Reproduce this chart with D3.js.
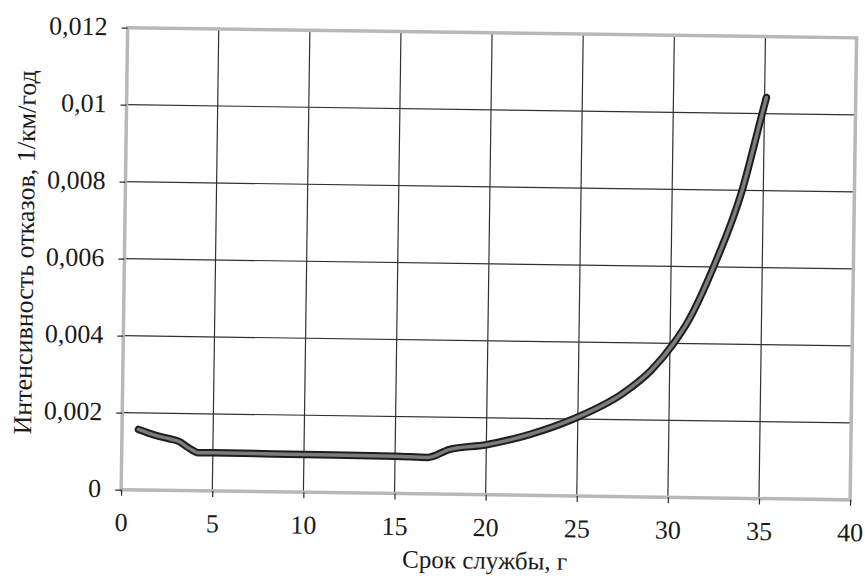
<!DOCTYPE html>
<html>
<head>
<meta charset="utf-8">
<script src="https://cdn.jsdelivr.net/npm/d3@7"></script>
<style>
  body { margin: 0; background: #fff; }
  svg { display: block; }
  text { font-family: "Liberation Serif", "Times New Roman", serif; fill: #1a1a1a; }
  .grid line { stroke: #303030; stroke-width: 1.2; }
  .axis path { display: none; }
  .axis line { stroke: #2a2a2a; stroke-width: 1.2; }
  .axis text { font-size: 26px; }
  .frame { fill: none; stroke: #b8b8b8; stroke-width: 3.5; }
  .curve-outline { fill: none; stroke: #1e1e1e; stroke-width: 7.5; stroke-linecap: round; stroke-linejoin: round; }
  .curve-fill { fill: none; stroke: #7c7c7c; stroke-width: 3.5; stroke-linecap: round; stroke-linejoin: round; }
</style>
</head>
<body>
<div id="chart"></div>
<script>
// service life, years
var years = [0.9, 1.8, 2.6, 3.1, 3.7, 4.2, 5, 10, 15, 16.8, 17.95, 20, 22.35, 24.75, 27.5, 29, 30.2, 31, 32.33, 33.84, 34.88, 35.1];
// failure rate, 1/km/year
var failureRate = [0.00157, 0.00143, 0.00134, 0.00128, 0.0011, 0.00099, 0.00099, 0.00098, 0.00097, 0.00095, 0.00116, 0.0013, 0.00158, 0.002, 0.0027, 0.0033, 0.004, 0.0046, 0.006, 0.008, 0.01, 0.01042];

var xTicks = [0, 5, 10, 15, 20, 25, 30, 35, 40];
var yTicks = [0, 0.002, 0.004, 0.006, 0.008, 0.01, 0.012];

var xTitle = "Срок службы, г";
var yTitle = "Интенсивность отказов, 1/км/год";

var width = 865,
  height = 580;
var margins = { top: 32, right: 12, bottom: 86, left: 124 };

var svg = d3
  .select("#chart")
  .append("svg")
  .attr("width", width)
  .attr("height", height);

// the scan is slightly tilted
var root = svg.append("g").attr("transform", "rotate(0.8, 432.5, 290)");

var x = d3
  .scaleLinear()
  .domain([0, 40])
  .range([margins.left, width - margins.right]);

var y = d3
  .scaleLinear()
  .domain([0, 0.012])
  .range([height - margins.bottom, margins.top]);

var fmt = (d) => (d === 0 ? "0" : String(+d.toFixed(3)).replace(".", ","));

// grid lines
root
  .append("g")
  .attr("class", "grid")
  .selectAll("line")
  .data(yTicks.slice(1, -1))
  .enter()
  .append("line")
  .attr("x1", x(0))
  .attr("x2", x(40))
  .attr("y1", (d) => y(d))
  .attr("y2", (d) => y(d));

root
  .append("g")
  .attr("class", "grid")
  .selectAll("line")
  .data(xTicks.slice(1, -1))
  .enter()
  .append("line")
  .attr("x1", (d) => x(d))
  .attr("x2", (d) => x(d))
  .attr("y1", y(0))
  .attr("y2", y(0.012));

// plot frame
root
  .append("rect")
  .attr("class", "frame")
  .attr("x", x(0))
  .attr("y", y(0.012))
  .attr("width", x(40) - x(0))
  .attr("height", y(0) - y(0.012));

// axes
root
  .append("g")
  .attr("class", "axis")
  .attr("transform", "translate(" + x(0) + ",0)")
  .call(d3.axisLeft(y).tickValues(yTicks).tickFormat(fmt).tickSize(6).tickPadding(14))
  .selectAll("text")
  .attr("dy", "0.28em");

root
  .append("g")
  .attr("class", "axis")
  .attr("transform", "translate(0," + y(0) + ")")
  .call(d3.axisBottom(x).tickValues(xTicks).tickSize(6).tickPadding(17));

// curve
var data = years.map((d, i) => ({ year: d, rate: failureRate[i] }));

var line = d3
  .line()
  .x((d) => x(d.year))
  .y((d) => y(d.rate))
  .curve(d3.curveMonotoneX);

root.append("path").datum(data).attr("class", "curve-outline").attr("d", line);
root.append("path").datum(data).attr("class", "curve-fill").attr("d", line);

// axis titles
root
  .append("text")
  .attr("x", (x(0) + x(40)) / 2)
  .attr("y", 568)
  .attr("text-anchor", "middle")
  .style("font-size", "25px")
  .text(xTitle);

root
  .append("text")
  .attr("transform", "translate(33,258) rotate(-90)")
  .attr("text-anchor", "middle")
  .style("font-size", "26px")
  .text(yTitle);
</script>
</body>
</html>
